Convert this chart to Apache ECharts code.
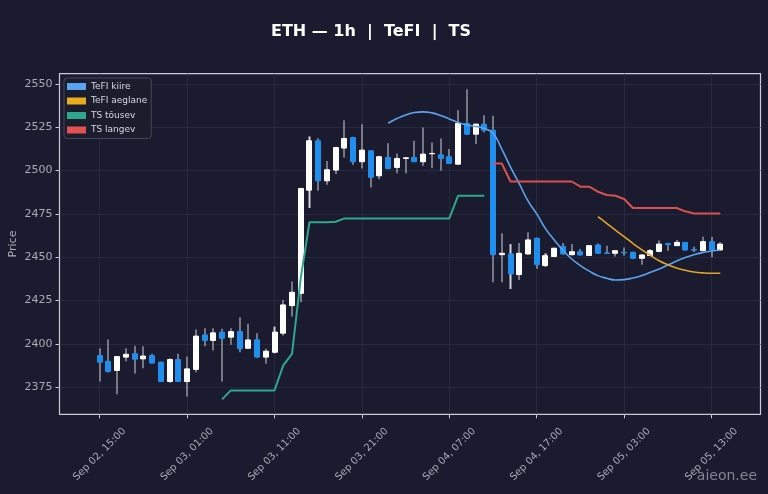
<!DOCTYPE html>
<html><head><meta charset="utf-8">
<script src="https://cdn.jsdelivr.net/npm/echarts@6/dist/echarts.min.js"></script>
<style>html,body{margin:0;padding:0;background:#1a1b2e;}#c{width:768px;height:494px;}</style>
</head><body><div id="c"></div>
<script>
// hourly candles, index 0 = Sep 02 15:00
const tickHours = [0, 10, 20, 30, 40, 50, 60, 70];
const tickLabels = ["Sep 02, 15:00","Sep 03, 01:00","Sep 03, 11:00","Sep 03, 21:00","Sep 04, 07:00","Sep 04, 17:00","Sep 05, 03:00","Sep 05, 13:00"];
const yTicks = [2375, 2400, 2425, 2450, 2475, 2500, 2525, 2550];

const openP = [2393.3,2390.0,2384.7,2392.4,2394.3,2391.4,2393.3,2389.5,2378.3,2391.0,
2378.3,2385.3,2405.2,2402.0,2406.8,2403.9,2407.1,2397.5,2402.4,2392.4,
2395.2,2406.2,2422.1,2429.2,2488.7,2517.2,2494.1,2500.3,2513.0,2519.1,
2505.1,2511.4,2497.0,2507.6,2501.8,2507.0,2507.6,2505.1,2509.7,2509.1,
2508.0,2503.7,2527.2,2521.0,2526.8,2523.3,2451.5,2451.9,2440.0,2451.9,
2461.0,2445.2,2450.4,2456.3,2451.5,2453.2,2451.0,2457.1,2452.5,2452.3,
2452.9,2452.9,2449.4,2451.0,2453.4,2458.0,2456.7,2458.6,2454.5,2453.8,
2459.0,2454.2];
const closeP = [2389.5,2384.1,2392.7,2394.0,2391.2,2393.0,2389.0,2378.3,2391.0,2378.3,
2385.6,2404.5,2402.0,2406.4,2403.3,2407.1,2397.2,2402.3,2392.4,2395.8,
2406.8,2422.5,2429.8,2489.7,2517.2,2494.1,2500.5,2513.3,2518.5,2505.1,
2511.8,2496.1,2508.0,2501.2,2507.0,2507.4,2505.1,2509.5,2509.9,2507.0,
2504.1,2527.2,2521.0,2526.8,2523.3,2451.5,2452.3,2440.4,2452.3,2460.0,
2445.7,2450.9,2455.2,2451.9,2453.2,2451.3,2456.7,2452.3,2452.2,2453.8,
2452.5,2449.4,2451.3,2453.8,2457.6,2457.3,2458.6,2454.2,2454.1,2459.0,
2454.2,2457.6];
const lowP = [2378.3,2383.5,2371.0,2390.0,2383.0,2386.0,2388.5,2378.0,2377.6,2378.0,
2369.7,2383.7,2398.7,2396.2,2378.3,2399.5,2395.2,2397.2,2392.0,2388.5,
2394.6,2404.9,2415.8,2424.0,2478.4,2488.4,2491.8,2498.0,2507.6,2503.4,
2501.2,2490.3,2495.0,2500.8,2498.4,2498.4,2504.9,2502.8,2501.4,2499.9,
2504.0,2503.5,2520.6,2515.3,2522.0,2435.6,2435.6,2431.7,2436.9,2451.5,
2443.3,2444.6,2450.2,2451.5,2451.0,2451.0,2450.8,2451.9,2451.9,2450.5,
2450.9,2449.0,2445.7,2450.8,2452.9,2453.8,2456.5,2453.8,2452.9,2453.4,
2450.0,2453.8];
const highP = [2397.5,2402.5,2393.0,2397.5,2399.0,2398.7,2394.3,2389.7,2391.8,2394.3,
2392.7,2408.3,2409.0,2409.0,2408.7,2409.0,2415.4,2411.6,2406.2,2397.2,
2410.0,2425.4,2436.0,2490.0,2519.7,2518.7,2505.6,2513.7,2529.0,2519.5,
2526.8,2511.8,2508.6,2515.8,2509.9,2507.6,2517.2,2524.9,2516.2,2518.5,
2512.4,2534.8,2547.0,2527.0,2532.0,2531.6,2463.8,2457.6,2458.2,2464.4,
2461.2,2452.3,2455.5,2458.2,2457.6,2454.8,2456.9,2458.0,2456.7,2454.0,
2455.7,2453.2,2451.9,2454.8,2459.6,2458.2,2460.0,2458.8,2456.1,2461.9,
2461.9,2458.6];

// indicator lines: first candle index + values
const tefiFastStart = 33;
const tefiFast = [2527.3,2530.0,2532.1,2533.5,2533.9,2533.3,2531.8,2529.8,2527.7,2526.4,
2525.4,2524.3,2521.5,2512.4,2502.0,2492.5,2482.5,2475.0,2466.5,2460.0,
2454.0,2449.0,2445.2,2442.0,2439.4,2437.9,2436.9,2437.1,2438.0,2439.4,
2441.3,2443.2,2445.5,2447.8,2449.9,2451.5,2452.7,2453.6,2454.2];
const tefiSlowStart = 57;
const tefiSlow = [2473.4,2469.6,2465.7,2461.9,2458.0,2454.4,2451.1,2448.0,2445.7,2443.8,
2442.5,2441.5,2441.0,2440.8,2440.8];
const tsUpStart = 14;
const tsUp = [2368.0,2373.2,2373.2,2373.2,2373.2,2373.2,2373.2,2387.6,2394.3,2438.0,
2470.2,2470.2,2470.2,2470.5,2472.4,2472.4,2472.4,2472.4,2472.4,2472.4,
2472.4,2472.4,2472.4,2472.4,2472.4,2472.4,2472.4,2485.5,2485.5,2485.5,2485.5];
const tsDownStart = 45;
const tsDown = [2504.1,2504.1,2493.7,2493.7,2493.7,2493.7,2493.7,2493.7,2493.7,2493.7,
2490.7,2490.7,2487.8,2485.9,2485.5,2483.6,2478.4,2478.4,2478.4,2478.4,
2478.4,2478.4,2476.5,2475.3,2475.3,2475.3,2475.3];

const UP = '#ffffff', DOWN = '#1e8fef', WICK = '#d2d3da';
const TXT = '#a9aab6';
const FONT = 'DejaVu Sans';

const idx = openP.map((_, i) => i);
const wickData = idx.map(i => [i, lowP[i], highP[i], lowP[i], highP[i]]);
const bodyData = idx.map(i => [i, openP[i], closeP[i], Math.min(openP[i], closeP[i]), Math.max(openP[i], closeP[i])]);
const toXY = (start, arr) => arr.map((v, k) => [start + k, v]);

const chart = echarts.init(document.getElementById('c'), null, {renderer: 'canvas'});
chart.setOption({
  backgroundColor: '#1a1b2e',
  animation: false,
  title: {
    text: 'ETH — 1h  |  TeFI  |  TS',
    left: 371, top: 24, textAlign: 'center', padding: 0,
    textStyle: {color: '#ffffff', fontSize: 16, fontWeight: 'bold', fontFamily: FONT}
  },
  legend: {
    left: 64, top: 78, orient: 'vertical',
    icon: 'rect', itemWidth: 19, itemHeight: 7, itemGap: 3.5,
    padding: [3, 4, 3, 3],
    backgroundColor: 'rgba(27,28,45,0.92)', borderColor: '#45475c', borderWidth: 1, borderRadius: 3,
    textStyle: {color: '#d8d8e0', fontSize: 9, lineHeight: 11, fontFamily: FONT},
    data: ['TeFI kiire', 'TeFI aeglane', 'TS tõusev', 'TS langev'],
    selectedMode: false
  },
  grid: {left: 59.5, right: 7.5, top: 73.7, bottom: 79.7, show: true, containLabel: false,
    outerBoundsMode: 'none',
    borderColor: '#c9cad3', borderWidth: 1.2, backgroundColor: 'transparent'},
  xAxis: {
    type: 'value', min: -4.6, max: 75.6,
    axisLine: {show: false, onZero: false},
    axisTick: {show: true, customValues: tickHours, length: 4, lineStyle: {color: '#c9cad3'}},
    axisLabel: {customValues: tickHours, formatter: v => tickLabels[tickHours.indexOf(v)] || '',
      rotate: 45, align: 'center', verticalAlign: 'middle', margin: 40,
      fontSize: 10, color: TXT, fontFamily: FONT},
    splitLine: {show: true, lineStyle: {color: '#2a2c43', width: 0.8}}
  },
  yAxis: {
    type: 'value', min: 2359.4, max: 2555.9,
    name: 'Price', nameLocation: 'middle', nameGap: 41, nameMoveOverlap: false,
    nameTextStyle: {color: TXT, fontSize: 11, fontFamily: FONT},
    axisLine: {show: false, onZero: false},
    axisTick: {show: true, customValues: yTicks, length: 4, lineStyle: {color: '#c9cad3', width: 1}},
    axisLabel: {customValues: yTicks, formatter: v => String(v), fontSize: 11, color: TXT, margin: 7, fontFamily: FONT},
    splitLine: {show: true, lineStyle: {color: '#2a2c43', width: 0.8}}
  },
  graphic: [{
    type: 'text', right: 11, bottom: 11,
    style: {text: 'aieon.ee', fill: 'rgba(165,166,180,0.75)', font: '14px "DejaVu Sans"'}
  }],
  series: [
    {type: 'candlestick', name: 'wick', data: wickData, barWidth: 1.6, silent: true, z: 2,
      itemStyle: {color: WICK, color0: WICK, borderColor: WICK, borderColor0: WICK, borderWidth: 0}},
    {type: 'candlestick', name: 'body', data: bodyData, barWidth: 5.5, silent: true, z: 3,
      itemStyle: {color: UP, color0: DOWN, borderColor: UP, borderColor0: DOWN, borderWidth: 1}},
    {type: 'line', name: 'TeFI kiire', data: toXY(tefiFastStart, tefiFast), smooth: true, showSymbol: false, z: 5,
      itemStyle: {color: '#5aa3ee'}, lineStyle: {color: '#5aa3ee', width: 1.6}},
    {type: 'line', name: 'TeFI aeglane', data: toXY(tefiSlowStart, tefiSlow), smooth: true, showSymbol: false, z: 5,
      itemStyle: {color: '#e8ac1c'}, lineStyle: {color: '#e0a524', width: 1.6}},
    {type: 'line', name: 'TS tõusev', data: toXY(tsUpStart, tsUp), showSymbol: false, z: 5,
      itemStyle: {color: '#2ea88b'}, lineStyle: {color: '#2ea88b', width: 2}},
    {type: 'line', name: 'TS langev', data: toXY(tsDownStart, tsDown), showSymbol: false, z: 5,
      itemStyle: {color: '#e25252'}, lineStyle: {color: '#d9504e', width: 2}}
  ]
});
</script></body></html>
